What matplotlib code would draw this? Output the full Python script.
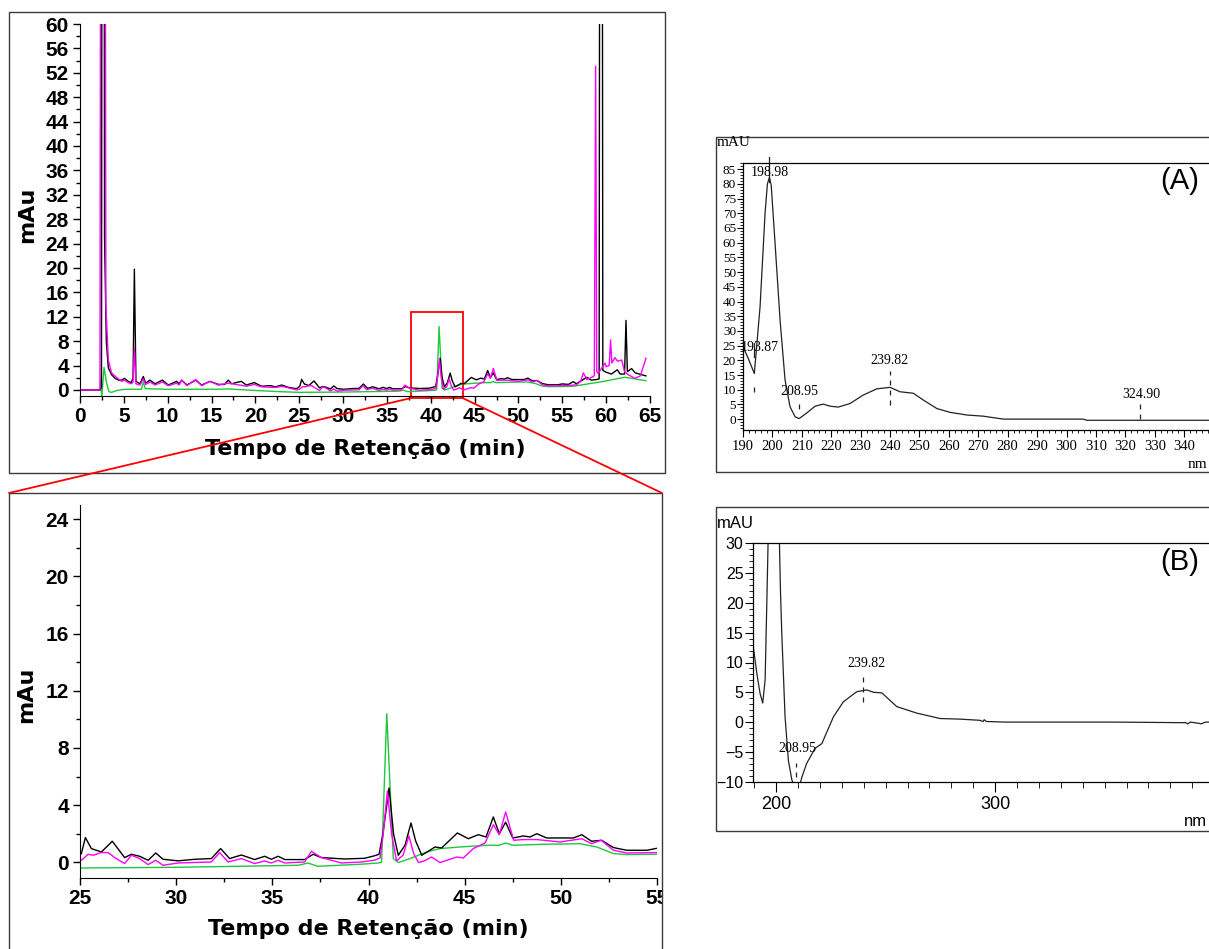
import matplotlib
matplotlib.use('Agg')
import matplotlib.pyplot as plt
from matplotlib.patches import Rectangle, ConnectionPatch
from matplotlib.ticker import MultipleLocator
from matplotlib.transforms import Bbox, TransformedBbox

W, H = 1209, 949

# cromatogramas (tempo em min, absorbancia em mAu)
black_t = [0, 2.3, 2.45, 2.62, 2.8, 3.0, 3.23, 3.6, 4.0, 4.4, 4.75, 5.06, 5.5, 5.85, 6.05, 6.2, 6.38,
           6.84, 7.22, 7.48, 7.98, 8.55, 9.39, 10.07, 11.02, 11.3, 11.6, 12.2, 13.19, 13.87, 14.82,
           15.77, 16.5, 16.9, 17.3, 17.8, 18.4, 18.96, 19.88, 20.7, 21.7, 22.3, 23.0, 23.8, 24.7,
           25.07, 25.28, 25.59, 26.11, 26.68, 27.32, 27.67, 28.1, 28.54, 28.94, 29.32, 30.1, 30.97,
           31.83, 32.31, 32.78, 33.39, 34.08, 34.6, 34.95, 35.3, 35.65, 36.68, 37.12, 37.55, 38.76,
           39.8, 40.3, 40.55, 40.75, 41.07, 41.3, 41.55, 41.9, 42.21, 42.45, 42.77, 43.46, 43.8,
           44.62, 45.19, 45.71, 46.11, 46.49, 46.8, 47.13, 47.5, 48.05, 48.4, 48.75, 49.27, 50.65,
           51.09, 51.6, 52.12, 52.73, 53.43, 54.47, 55.0, 55.7, 56.25, 56.6, 57.8, 58.3, 58.9, 59.2,
           59.42, 59.62, 60.0, 60.6, 61.27, 61.6, 62.1, 62.26, 62.42, 62.9, 63.3, 64.54]
black_v = [0, 0, 0.5, 300, 25, 8, 3.6, 2.5, 1.9, 1.6, 1.6, 1.9, 1.4, 1.2, 2.0, 19.8, 1.4,
           1.0, 2.2, 1.1, 1.6, 1.0, 1.6, 0.8, 1.4, 1.0, 1.6, 0.8, 1.6, 0.8, 1.4,
           0.9, 0.9, 1.6, 1.0, 1.2, 1.4, 0.8, 1.2, 0.6, 0.7, 0.5, 0.8, 0.4, 0.2,
           0.61, 1.73, 0.96, 0.72, 1.47, 0.33, 0.56, 0.42, 0.14, 0.65, 0.21, 0.10, 0.21,
           0.26, 0.96, 0.26, 0.51, 0.19, 0.42, 0.21, 0.42, 0.19, 0.19, 0.56, 0.33, 0.23,
           0.28, 0.45, 0.56, 2.0, 5.2, 2.0, 0.49, 1.2, 2.75, 1.5, 0.49, 1.07, 1.0,
           2.05, 1.65, 1.93, 1.77, 3.17, 2.0, 2.8, 1.7, 1.84, 1.77, 2.0, 1.7, 1.7,
           1.93, 1.47, 1.54, 1.03, 0.84, 0.84, 0.98, 0.9, 1.36, 1.0, 2.07, 1.6, 1.7, 1.8,
           300, 3.2, 2.9, 2.6, 3.3, 2.6, 2.6, 11.4, 3.0, 3.5, 2.8, 2.3]

magenta_t = [0, 2.28, 2.6, 2.95, 3.23, 3.6, 4.2, 4.75, 5.06, 5.5, 5.85, 6.05, 6.2, 6.38, 6.84, 7.22,
             7.48, 7.98, 8.55, 9.39, 10.07, 11.02, 11.3, 11.6, 12.2, 13.19, 13.87, 14.82, 15.77,
             16.9, 17.8, 18.96, 19.88, 20.7, 22.3, 23.0, 24.7, 25.07, 25.42, 25.68, 26.11, 26.46,
             26.8, 27.32, 27.67, 28.1, 28.54, 28.94, 29.32, 30.1, 31.83, 32.26, 32.7, 33.39, 34.08,
             34.6, 34.95, 35.3, 35.65, 36.68, 37.03, 37.55, 38.59, 39.63, 40.3, 40.6, 40.75, 40.98,
             41.2, 41.46, 41.8, 42.1, 42.35, 42.6, 42.9, 43.28, 43.72, 44.58, 44.93, 45.45, 46.06,
             46.49, 46.8, 47.13, 47.55, 48.05, 48.75, 49.96, 51.09, 51.6, 52.1, 52.73, 53.43, 55.0,
             56.6, 57.1, 57.4, 57.8, 58.55, 58.65, 58.8, 58.93, 59.1, 59.86, 60.0, 60.35, 60.5,
             60.65, 61.0, 61.3, 61.77, 62.1, 62.5, 63.3, 63.9, 64.54]
magenta_v = [0, 0, 400, 14, 4.9, 2.8, 2.0, 1.4, 1.6, 1.2, 1.0, 1.3, 6.8, 1.0, 0.8, 1.8,
             0.9, 1.3, 0.8, 1.3, 0.7, 1.1, 0.8, 1.6, 0.7, 1.7, 0.7, 1.4, 0.8,
             1.1, 0.9, 0.6, 0.9, 0.5, 0.4, 0.6, 0.0, 0.14, 0.56, 0.49, 0.68, 0.68,
             0.33, -0.09, 0.49, 0.26, -0.16, 0.14, -0.21, -0.05, 0.02, 0.68, 0.02, 0.26, -0.09,
             0.09, -0.05, 0.14, -0.05, 0.02, 0.77, 0.33, -0.05, 0.02, 0.14, 0.3, 1.8, 4.99,
             2.0, 0.10, 0.5, 1.84, 0.6, -0.02, 0.10, 0.37, -0.02, 0.37, 0.30, 0.96, 1.35,
             2.63, 1.93, 3.52, 1.54, 1.59, 1.59, 1.42, 1.65, 1.30, 1.54, 0.84, 0.65, 0.68,
             0.82, 1.4, 2.8, 1.7, 2.2, 2.4, 53.1, 3.0, 2.7, 4.4, 3.8, 4.0, 8.2,
             4.4, 5.3, 4.7, 4.9, 3.0, 2.5, 1.9, 2.3, 5.2]

green_t = [0, 2.3, 2.39, 2.47, 2.6, 2.74, 3.04, 3.3, 3.6, 4.2, 5.13, 7.0, 7.22, 7.45, 10, 15, 17,
           20, 23, 25, 30.1, 36.34, 36.85, 37.37, 39.56, 40.5, 40.68, 40.95, 41.29, 41.55, 42.16,
           43.03, 43.72, 44.76, 46.15, 46.8, 47.13, 47.5, 49.1, 51.0, 51.87, 52.73, 53.43, 55.0,
           56.25, 58.0, 60.0, 62.1, 62.9, 64.54]
green_v = [0, 0, 1.9, -1.5, 1.0, 3.7, 1.1, -0.3, -0.4, -0.1, 0.1, 0.1, 1.3, 0.2, 0.1, 0.1, 0.15,
           -0.1, -0.3, -0.4, -0.35, -0.21, -0.05, -0.28, -0.14, -0.05, 0.0, 10.4, 0.26, -0.02, 0.26,
           0.72, 0.96, 1.07, 1.19, 1.19, 1.35, 1.19, 1.26, 1.3, 1.07, 0.61, 0.54, 0.56,
           0.6, 1.0, 1.47, 2.07, 1.9, 1.5]

# espectros UV (nm, mAU)
a_nm = [190, 191.8, 193.85, 195.8, 197.5, 198.3, 198.98, 199.6, 200.9, 202.6, 204.3, 206, 207.7,
        209.1, 211.7, 214.5, 217.3, 219.6, 222.4, 226.4, 230.9, 235.5, 240, 243.4, 247.9, 251.3,
        255.9, 260.4, 266.1, 271.7, 278.5, 305.7, 306.9, 360]
a_mau = [24.6, 20.6, 15.5, 38.2, 70, 80, 82.2, 79.5, 59.8, 33.7, 13.3, 4.2, 0.8,
         0.2, 2.1, 4.4, 5.1, 4.4, 4.1, 5.3, 8.2, 10.3, 10.8, 9.3, 8.8, 6.5,
         3.6, 2.3, 1.4, 1.0, 0.0, 0.0, -0.4, -0.4]
a_peaks = ['198.98', '193.87', '208.95', '239.82', '324.90']
a_peak_nm = [198.98, 193.87, 208.95, 239.82, 324.90]
a_text_nm = [199.0, 195.8, 209.1, 239.8, 325.5]
a_text_y = [84.0, 24.3, 9.3, 19.8, 8.5]
a_mark_lo = [80.5, 9.2, 3.6, 4.8, 0.0]
a_mark_hi = [89.0, 12.2, 5.9, 16.4, 5.4]

b_nm = [189.6, 191.2, 192.7, 193.9, 195.0, 195.8, 198.9, 202.0, 202.6, 204.1, 205.6, 207.2, 209.0,
        210.5, 211.8, 214.0, 217.8, 220.9, 226.2, 230.7, 236.8, 241.4, 244.5, 248.3, 255.1, 264.3,
        274.9, 284.0, 293.0, 294.5, 295.0, 296.0, 305.0, 355.0, 387.0, 388.0, 389.0, 393.0, 394.0,
        396.0, 420.0]
b_mau = [12.65, 8.2, 4.8, 3.2, 7.1, 20.5, 75, 22, 14.9, 0.9, -6.4, -9.7, -11.5,
         -11.0, -9.2, -6.9, -4.4, -3.6, 0.9, 3.4, 5.1, 5.4, 5.0, 4.9, 2.6, 1.5,
         0.6, 0.5, 0.3, 0.1, 0.4, 0.1, 0.0, 0.0, -0.1, -0.3, 0.0, -0.2, -0.3,
         0.0, 0.0]
b_peaks = ['239.82', '208.95']
b_peak_nm = [239.82, 208.95]
b_text_y = [9.9, -4.4]
b_text_nm = [241.1, 209.9]
b_mark_lo = [3.4, -9.2]
b_mark_hi = [8.2, -6.9]


def rect_px(x0, y0, x1, y1):
    """caixa em pixels -> fracao da figura"""
    return [x0 / W, 1 - y1 / H, (x1 - x0) / W, (y1 - y0) / H]


def frame(x0, y0, x1, y1):
    fig.add_artist(Rectangle((x0 / W, 1 - y1 / H), (x1 - x0) / W, (y1 - y0) / H,
                             transform=fig.transFigure, fill=False, ec='#3a3a3a', lw=1.0))


def chromatogram(ax, xlim, ylim, xmaj, ymaj):
    ax.plot(green_t, green_v, color='#1fc83a', lw=1.0)
    ax.plot(black_t, black_v, color='black', lw=1.0)
    ax.plot(magenta_t, magenta_v, color='#ff00ff', lw=1.0)
    ax.set_xlim(xlim)
    ax.set_ylim(ylim)
    ax.spines['top'].set_visible(False)
    ax.spines['right'].set_visible(False)
    ax.set_xticks(xmaj)
    ax.set_yticks(ymaj)
    ax.xaxis.set_minor_locator(MultipleLocator(2.5))
    ax.yaxis.set_minor_locator(MultipleLocator(2))
    ax.tick_params(which='major', direction='out', length=5, width=1, pad=3)
    ax.tick_params(which='minor', direction='out', length=3, width=1)
    plt.setp(ax.get_xticklabels() + ax.get_yticklabels(),
             family=['Liberation Sans Narrow', 'Liberation Sans'], weight='bold', size=15)
    ax.set_xlabel('Tempo de Retenção (min)', family='DejaVu Sans', weight='bold', size=16)
    ax.set_ylabel('mAu', family='DejaVu Sans', weight='bold', size=16)


fig = plt.figure(figsize=(W / 100, H / 100), dpi=100)

# cromatograma completo
ax1 = fig.add_axes(rect_px(80, 24, 650, 396))
chromatogram(ax1, (0, 65), (-1, 60), range(0, 66, 5), range(0, 61, 4))
ax1.xaxis.set_label_coords(0.5, -0.115)
ax1.yaxis.set_label_coords(-0.075, 0.487)

# ampliacao 25-55 min
ax2 = fig.add_axes(rect_px(80, 505, 657, 878))
chromatogram(ax2, (25, 55), (-1.1, 25), range(25, 56, 5), range(0, 25, 4))
ax2.xaxis.set_label_coords(0.5, -0.11)
ax2.yaxis.set_label_coords(-0.076, 0.49)
clip = TransformedBbox(Bbox.from_extents(9 / W, 0, 662 / W, 1), fig.transFigure)
for lbl in ax2.get_xticklabels():
    lbl.set_clip_box(clip)
    lbl.set_clip_on(True)

frame(9, 12, 665, 473)
frame(9, 493, 662, 990)

ax1.add_patch(Rectangle((37.7, -1.35), 5.95, 14.15, fill=False, ec='red', lw=1.3, clip_on=False))
for xa, xb in [(37.7, 9), (43.65, 662)]:
    fig.add_artist(ConnectionPatch(xyA=(xa, -1.35), coordsA=ax1.transData,
                                   xyB=(xb / W, 1 - 493 / H), coordsB=fig.transFigure,
                                   color='red', lw=1.3))

# espectro (A)
serif = 'Liberation Serif'
frame(716, 137, 1240, 472)
ax3 = fig.add_axes(rect_px(743, 163.3, 1243, 430))
ax3.plot(a_nm, a_mau, color='#222222', lw=0.9)
ax3.set_xlim(190, 360)
ax3.set_ylim(-3.7, 87)
ax3.set_xticks(range(190, 350, 10))
ax3.set_yticks(range(0, 86, 5))
ax3.xaxis.set_minor_locator(MultipleLocator(2))
ax3.yaxis.set_minor_locator(MultipleLocator(1))
ax3.tick_params(which='major', direction='out', length=5, width=0.8, pad=2, labelsize=10.5)
ax3.tick_params(axis='y', which='major', length=4, labelsize=9.5, pad=1)
ax3.tick_params(which='minor', direction='out', length=2.5, width=0.6)
plt.setp(ax3.get_xticklabels() + ax3.get_yticklabels(), family=serif)
for s in ax3.spines.values():
    s.set_linewidth(0.9)
for i in range(len(a_peaks)):
    ax3.text(a_text_nm[i], a_text_y[i], a_peaks[i], family=serif, size=10,
             ha='center', va='center')
    ls = '-' if i == 0 else (0, (4, 4))
    ax3.plot([a_peak_nm[i], a_peak_nm[i]], [a_mark_lo[i], a_mark_hi[i]], color='#222222',
             lw=0.9, ls=ls, clip_on=False)
ax3.plot([193.87, 193.87], [21.1, 25.9], color='#222222', lw=0.9)
fig.text(717 / W, 1 - 143 / H, 'mAU', family=serif, size=11, va='center')
fig.text(1180 / W, 1 - 181 / H, '(A)', family='Liberation Sans', size=21, ha='center', va='center')
fig.text(1207 / W, 1 - 464 / H, 'nm', family=serif, size=11, ha='right', va='center')

# espectro (B)
frame(716, 507, 1240, 831)
ax4 = fig.add_axes(rect_px(753.3, 543.3, 1258, 781.7))
ax4.plot(b_nm, b_mau, color='#222222', lw=0.9)
ax4.set_xlim(189.6, 420)
ax4.set_ylim(-10, 30)
ax4.set_xticks([200, 300])
ax4.set_yticks(range(-10, 31, 5))
ax4.xaxis.set_minor_locator(MultipleLocator(10))
ax4.yaxis.set_minor_locator(MultipleLocator(1))
ax4.tick_params(axis='x', which='major', direction='out', length=7, width=0.8, pad=3, labelsize=13)
ax4.tick_params(axis='y', which='major', direction='out', length=6, width=0.8, pad=1, labelsize=11.5)
ax4.tick_params(which='minor', direction='out', length=3, width=0.6)
ax4.tick_params(axis='x', which='minor', length=4.5)
plt.setp(ax4.get_xticklabels() + ax4.get_yticklabels(), family='Liberation Sans')
for s in ax4.spines.values():
    s.set_linewidth(0.9)
for i in range(len(b_peaks)):
    ax4.text(b_text_nm[i], b_text_y[i], b_peaks[i], family=serif, size=10,
             ha='center', va='center')
    ax4.plot([b_peak_nm[i], b_peak_nm[i]], [b_mark_lo[i], b_mark_hi[i]], color='#222222',
             lw=0.9, ls=(0, (4, 4)))
fig.text(717 / W, 1 - 523 / H, 'mAU', family='Liberation Sans', size=12, va='center')
fig.text(1180 / W, 1 - 562 / H, '(B)', family='Liberation Sans', size=21, ha='center', va='center')
fig.text(1207 / W, 1 - 821 / H, 'nm', family='Liberation Sans', size=12, ha='right', va='center')

fig.savefig('out.png', dpi=100)
